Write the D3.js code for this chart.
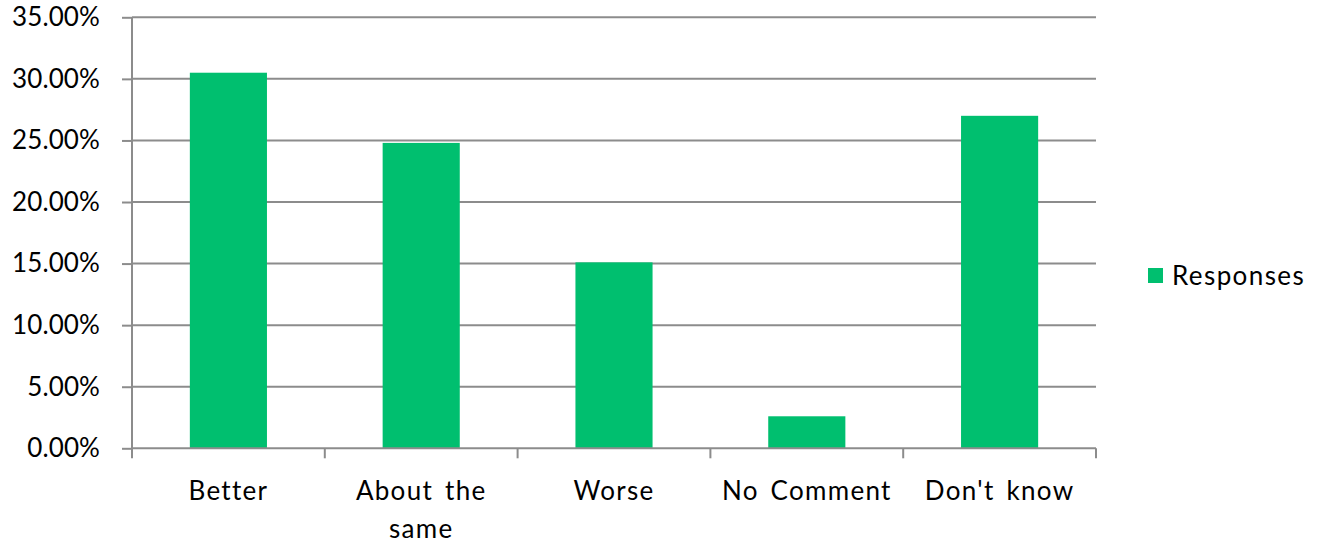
<!DOCTYPE html>
<html>
<head>
<meta charset="utf-8">
<script src="https://cdn.jsdelivr.net/npm/d3@7"></script>
<style>
  html, body { margin: 0; padding: 0; background: #fff; }
  svg { display: block; }
  text { font-family: Lato, "Open Sans", sans-serif; fill: #000; }
</style>
</head>
<body>
<svg id="chart" width="1320" height="544"></svg>
<script>
const categories = ["Better", "About the same", "Worse", "No Comment", "Don't know"];
const labelLines = [["Better"], ["About the", "same"], ["Worse"], ["No Comment"], ["Don't know"]];
const responses = [0.305, 0.248, 0.151, 0.026, 0.270];
const yTicks = [0, 0.05, 0.10, 0.15, 0.20, 0.25, 0.30, 0.35];
const seriesName = "Responses";

(function () {
const svg = d3.select("#chart");
const pLeft = 132, pRight = 1096, pTop = 17.3, pBottom = 448.3;
const barColor = "#00bf6f";
const gridColor = "#8c8c8c";

const x = d3.scaleBand().domain(categories).range([pLeft, pRight]).padding(0);
const y = d3.scaleLinear().domain([0, 0.35]).range([pBottom, pTop]);
const fmt = d3.format(".2%");

// gridlines
svg.append("g").selectAll("line").data(yTicks.filter(d => d > 0)).join("line")
  .attr("x1", pLeft).attr("x2", pRight)
  .attr("y1", d => y(d)).attr("y2", d => y(d))
  .attr("stroke", gridColor).attr("stroke-width", 2);

// bars
const barW = x.bandwidth() * 0.4;
svg.append("g").selectAll("rect").data(categories).join("rect")
  .attr("x", d => x(d) + (x.bandwidth() - barW) / 2)
  .attr("width", barW)
  .attr("y", (d, i) => y(responses[i]))
  .attr("height", (d, i) => y(0) - y(responses[i]))
  .attr("fill", barColor);

// y axis
const yAxis = svg.append("g").attr("transform", `translate(${pLeft},0)`)
  .call(d3.axisLeft(y).tickValues(yTicks).tickFormat(fmt).tickSize(10).tickPadding(22));
yAxis.select(".domain").attr("stroke", gridColor).attr("stroke-width", 2)
  .attr("d", `M0,${pTop}V${pBottom}`);
yAxis.selectAll(".tick line").attr("stroke", gridColor).attr("stroke-width", 2);
yAxis.selectAll(".tick text").attr("font-size", 26).attr("font-family", "Lato, sans-serif")
  .attr("fill", "#000").attr("letter-spacing", "0.1px");

// x axis baseline + boundary ticks
const xa = svg.append("g");
xa.append("line").attr("x1", pLeft).attr("x2", pRight).attr("y1", pBottom).attr("y2", pBottom)
  .attr("stroke", gridColor).attr("stroke-width", 2);
const bounds = categories.map(c => x(c)).concat([x(categories[categories.length - 1]) + x.bandwidth()]);
xa.selectAll("line.tk").data(bounds).join("line").attr("class", "tk")
  .attr("x1", d => d).attr("x2", d => d).attr("y1", pBottom).attr("y2", pBottom + 10)
  .attr("stroke", gridColor).attr("stroke-width", 2);

// x labels
const xl = xa.selectAll("text.xl").data(categories).join("text").attr("class", "xl")
  .attr("text-anchor", "middle").attr("font-size", 26)
  .attr("letter-spacing", "1.3px").attr("word-spacing", "4px")
  .attr("transform", d => `translate(${x(d) + x.bandwidth() / 2},500)`);
xl.selectAll("tspan").data((d, i) => labelLines[i]).join("tspan")
  .attr("x", 0).attr("dy", (d, i) => i === 0 ? 0 : 38).text(d => d);

// legend
const lg = svg.append("g").attr("transform", "translate(1148,268)");
lg.append("rect").attr("width", 15).attr("height", 15).attr("fill", barColor);
lg.append("text").attr("x", 24).attr("y", 17).attr("font-size", 26).attr("letter-spacing", "1.4px").text(seriesName);
})();
</script>
</body>
</html>
